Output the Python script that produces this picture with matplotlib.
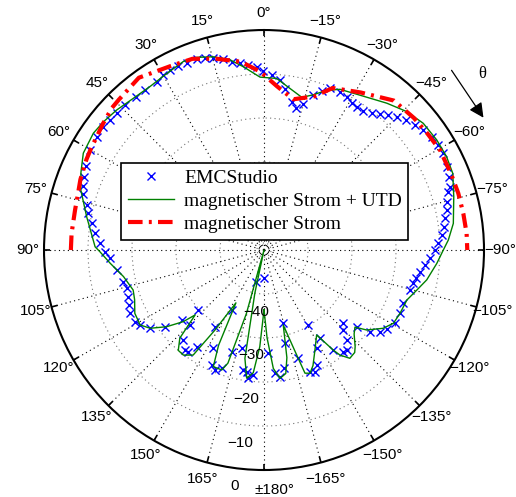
import numpy as np
import matplotlib
matplotlib.use('Agg')
import matplotlib.pyplot as plt

# ---------------- data (angle in degrees, level in dB) ----------------
emc_theta = [0.2, 2.3, 4.9, 7.3, 9.7, 12.0, 14.8, 17.1, 19.4, 22.4, 25.0, 27.6, 29.9, 32.5,
             36.6, 39.9, 43.8, 47.1, 49.8, 52.6, 55.9, 60.1, 64.8, 67.8, 70.4, 72.8, 75.8,
             78.2, 81.2, 84.4, 87.7, 90.6, 93.1, 97.7, 102.6, 105.6, 109.0, 112.2, 115.3,
             119.1, 121.2, 124.5, 127.8, 130.4, 132.4, 135.4, 138.1, 141.7, 143.3, 145.2,
             147.4, 151.7, 152.7, 155.5, 157.8, 160.3, 162.4, 165.8, 167.2, 170.2, 172.0,
             173.0, 175.1, -179.4, -177.6, -174.9, -172.8, -170.4, -167.3, -165.2, -162.4,
             -159.3, -157.3, -155.4, -151.8, -149.4, -147.6, -145.3, -142.0, -140.4, -137.4,
             -135.3, -132.7, -129.6, -127.6, -125.2, -122.9, -119.2, -115.0, -110.9, -105.3,
             -102.6, -100.5, -97.9, -95.3, -92.9, -90.0, -87.8, -85.2, -82.6, -80.1, -77.7,
             -75.2, -72.4, -71.2, -68.4, -65.5, -61.7, -58.9, -56.0, -52.9, -50.4, -47.5,
             -44.9, -42.6, -40.5, -38.1, -35.5, -32.9, -30.8, -28.5, -25.6, -22.1, -19.9,
             -17.6, -15.1, -12.7, -10.6, -7.4, -5.4, -2.5]
emc_db = [-9.25, -8.3, -7.8, -7.2, -6.6, -5.6, -4.9, -4.4, -4.0, -3.95, -3.9, -3.85, -4.1, -4.6,
          -4.7, -4.6, -4.35, -4.3, -4.2, -4.05, -4.1, -4.4, -5.2, -5.9, -6.4, -7.0, -8.4,
          -9.2, -10.4, -11.4, -12.7, -13.9, -15.0, -16.2, -17.1, -17.6, -17.4, -16.9, -16.3,
          -16.5, -17.1, -18.6, -21.5, -25.5, -29.8, -26.0, -22.5, -21.0, -21.2, -23.2,
          -29.3, -34.5, -24.9, -21.3, -20.5, -21.5, -25.7, -42.6, -27.1, -22.3, -22.0,
          -20.6, -21.5, -43.6, -26.5, -21.9, -21.0, -22.7, -28.3, -32.8, -24.2,
          -20.4, -20.0, -21.25, -24.7, -30.2, -26.2, -22.3, -20.7, -20.5, -22.2,
          -24.4, -25.5, -22.7, -19.6, -17.75, -16.8, -15.9, -15.9, -16.1, -15.6,
          -15.2, -14.9, -14.2, -13.25, -12.2, -11.1, -10.4, -9.5, -8.75, -8.2, -7.5,
          -6.9, -6.1, -5.3, -4.7, -4.4, -3.7, -3.75, -4.0, -4.6, -5.45, -6.25,
          -7.25, -8.3, -9.4, -10.3, -11.1, -11.2, -11.0, -10.3, -10.1, -10.2, -11.5,
          -13.0, -15.6, -17.0, -15.7, -13.2, -11.3, -10.2]

utd_theta = [-180.0, -178.0, -175.5, -172.9, -170.0, -168.0, -165.6, -163.0, -161.6, -159.5,
             -157.0, -153.0, -148.2, -145.3, -144.1, -141.6, -138.5, -136.7, -133.0, -130.3,
             -127.9, -123.3, -119.5, -115.0, -109.3, -104.7, -100.4, -94.4, -90.0, -86.9,
             -82.0, -74.3, -67.9, -62.9, -57.5, -51.5, -45.9, -39.9, -31.8, -25.3, -21.4,
             -17.6, -13.9, -9.1, -4.2, 1.3, 2.4, 6.4, 10.1, 14.7, 19.3, 23.2, 28.8, 34.9,
             40.7, 46.5, 51.4, 55.6, 61.8, 67.0, 71.9, 79.4, 88.9, 90.6, 94.9, 100.7, 107.0,
             111.0, 116.1, 121.2, 124.5, 128.2, 131.6, 133.3, 136.3, 139.5, 142.5, 146.0,
             148.5, 152.0, 154.5, 156.5, 160.6, 162.3, 164.5, 166.0, 168.0, 170.0, 172.3,
             175.0, 177.5, 180.0]
utd_db = [-36.4, -30.0, -23.0, -20.6, -21.5, -25.0, -32.4, -26.0, -20.5, -20.1,
          -21.5, -24.5, -27.3, -22.3, -20.5, -18.6, -18.9, -19.8, -22.0, -22.9,
          -20.4, -17.6, -16.2, -15.9, -15.6, -14.1, -12.4, -10.6, -9.25, -8.05,
          -6.55, -5.2, -3.7, -3.4, -3.45, -3.75, -4.8, -6.5, -8.6, -9.6, -11.0,
          -13.0, -14.25, -12.8, -10.9, -10.7, -10.2, -8.1, -6.1, -4.6, -3.6, -3.4, -4.2, -4.7,
          -4.5, -3.8, -3.3, -3.0, -3.4, -4.8, -6.2, -9.0, -11.6, -12.7, -14.9, -17.5, -18.9,
          -18.5, -17.3, -17.1, -18.6, -21.8, -25.5, -28.5, -22.3, -20.0, -19.9, -21.2,
          -28.7, -36.4, -26.0, -21.1, -21.1, -23.0, -35.0, -50.0, -40.0, -25.0, -20.6,
          -22.0, -28.0, -36.4]

ms_theta = [90.0, 85.0, 78.0, 74.0, 69.0, 63.0, 59.0, 56.0, 52.0, 47.0, 44.0, 36.0, 27.0,
            20.5, 14.0, 7.0, 1.3, -4.6, -11.0, -18.0, -23.0, -31.5, -41.0, -48.6, -54.3,
            -60.4, -67.7, -73.7, -79.6, -85.3, -90.0]
ms_db = [-6.1, -6.1, -6.1, -5.9, -5.3, -4.7, -4.35, -4.1, -3.5, -2.7, -2.5, -1.6, -3.1,
         -3.6, -5.2, -6.9, -9.4, -12.7, -15.1, -13.3, -10.0, -8.0, -5.0, -4.6, -4.4,
         -4.0, -4.1, -4.0, -3.95, -3.8, -3.8]

theta_ticks = [0, 15, 30, 45, 60, 75, 90, 105, 120, 135, 150, 165, 180,
               195, 210, 225, 240, 255, 270, 285, 300, 315, 330, 345]
theta_labels = ['0°', '15°', '30°', '45°', '60°', '75°', '90°', '105°', '120°', '135°',
                '150°', '165°', '', '−165°', '−150°', '−135°', '−120°', '−105°', '−90°',
                '−75°', '−60°', '−45°', '−30°', '−15°']
r_rings = [-48.4, -40, -30, -20, -10]
r_labels = ['−40', '−30', '−20', '−10', '0']
r_label_values = [-40, -30, -20, -10, 0]
legend_labels = ['EMCStudio', 'magnetischer Strom + UTD', 'magnetischer Strom']

# ---------------- figure ----------------
fig = plt.figure(figsize=(5.16, 4.97), dpi=100)
ax = fig.add_axes([0.0853, 0.0543, 0.8527, 0.8853], projection='polar')
ax.set_theta_zero_location('N')
ax.set_theta_direction(1)
ax.set_rlim(-50, 0)

ax.set_thetagrids(theta_ticks, theta_labels, fontsize=11, family='Liberation Sans')
ax.set_rgrids(r_rings, labels=[''] * len(r_rings))
ax.xaxis.grid(True, linestyle=(0, (1, 3)), color='k', linewidth=0.8)
ax.yaxis.grid(True, linestyle=(0, (1, 3)), color='0.45', linewidth=0.8)
ax.tick_params(axis='x', direction='in', length=0, pad=5, colors='k')
ax.spines['polar'].set_linewidth(1.5)

# short inward tick marks on the outer circle (MATLAB style)
for t in theta_ticks:
    ax.plot([np.deg2rad(t)] * 2, [-1.4, 0], color='k', linewidth=1.2,
            solid_capstyle='butt', clip_on=False)

l1, = ax.plot(np.deg2rad(emc_theta), emc_db, 'x', color='blue', markersize=6,
              markeredgewidth=1.0, linestyle='none')
l2, = ax.plot(np.deg2rad(utd_theta), utd_db, '-', color=(0, 0.5, 0), linewidth=1.0)
l3, = ax.plot(np.deg2rad(ms_theta), ms_db, color='red', linewidth=3,
              linestyle=(0, (3.5, 1.5, 0.7, 1.5)))
ax.set_rlim(-50, 0)

# 180 degree label and radial labels
ax.text(np.deg2rad(-177.5), 4.6, '±180°', ha='center', va='center', fontsize=11,
        family='Liberation Sans', clip_on=False)
for val, lab in zip(r_label_values, r_labels):
    ax.text(np.deg2rad(173), val + 4.1, lab, ha='center', va='center', fontsize=11,
            family='Liberation Sans', clip_on=False)

leg = fig.legend([l1, l2, l3], legend_labels, loc='upper left',
                 bbox_to_anchor=(0.234, 0.673), bbox_transform=fig.transFigure,
                 prop={'family': 'Liberation Serif', 'size': 14}, fancybox=False,
                 framealpha=1, edgecolor='k', borderaxespad=0, handlelength=2.4,
                 labelspacing=0.28, borderpad=0.35, handletextpad=0.5)
leg.get_frame().set_linewidth(1.2)

# theta direction arrow
ax.annotate('', xy=(485 / 516, 1 - 120 / 497), xytext=(450 / 516, 1 - 68 / 497),
            xycoords='figure fraction', textcoords='figure fraction',
            arrowprops=dict(arrowstyle='-|>', color='k', lw=0.9, mutation_scale=22))
fig.text(482 / 516, 1 - 74 / 497, 'θ', ha='center', va='center', fontsize=12,
         family='Liberation Serif')

fig.savefig('out.png', dpi=100)
